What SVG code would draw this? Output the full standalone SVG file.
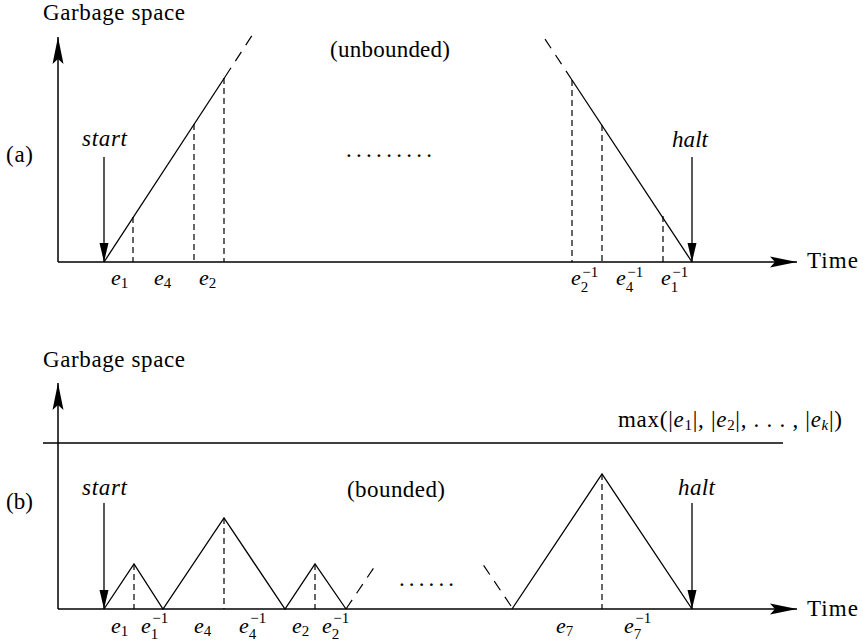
<svg xmlns="http://www.w3.org/2000/svg" width="863" height="643" viewBox="0 0 863 643">
<defs>
<style>
.ln{stroke:#000;stroke-width:1.3;fill:none}
.ax{stroke:#000;stroke-width:1.5;fill:none}
.ds{stroke:#000;stroke-width:1.2;fill:none;stroke-dasharray:6 4}
.dl{stroke:#000;stroke-width:1.2;fill:none;stroke-dasharray:11 8}
text{font-family:"Liberation Serif","DejaVu Serif",serif;fill:#000}
.t{font-size:23px}
.it{font-size:23px;font-style:italic}
.e{font-size:22px;font-style:italic}
.sb{font-size:15px;font-style:normal}
.sbi{font-size:15px;font-style:italic}
</style>
<marker id="axh" markerUnits="userSpaceOnUse" viewBox="-28 -7 30 14" refX="0" refY="0" markerWidth="30" markerHeight="14" orient="auto" overflow="visible">
<path d="M0,0 L-27,-5.5 L-22,0 L-27,5.5 Z" fill="#000"/>
</marker>
<marker id="evh" markerUnits="userSpaceOnUse" viewBox="-20 -5 22 10" refX="0" refY="0" markerWidth="22" markerHeight="10" orient="auto" overflow="visible">
<path d="M0,0 L-19,-4.5 L-19,4.5 Z" fill="#000"/>
</marker>
</defs>
<rect width="863" height="643" fill="#fff"/>

<g id="panel-a">
<g id="a-axes">
<line class="ax" x1="58" y1="262" x2="58" y2="37" marker-end="url(#axh)"/>
<line class="ax" x1="58" y1="262" x2="797" y2="262" marker-end="url(#axh)"/>
<text class="t" x="43" y="20" textLength="142">Garbage space</text>
<text class="t" x="807" y="268" textLength="51">Time</text>
<text class="t" x="6" y="162" textLength="27">(a)</text>
</g>
<g id="a-start">
<text class="it" x="82" y="146" textLength="45">start</text>
<line class="ln" x1="104" y1="157" x2="104" y2="262" marker-end="url(#evh)"/>
</g>
<g id="a-halt">
<text class="it" x="672" y="147" textLength="36">halt</text>
<line class="ln" x1="692" y1="157" x2="692" y2="262" marker-end="url(#evh)"/>
</g>
<g id="a-curve">
<line class="ln" x1="104" y1="262" x2="225" y2="77"/>
<line class="dl" x1="225" y1="77" x2="253" y2="34"/>
<line class="ln" x1="572" y1="80" x2="692" y2="262"/>
<line class="dl" x1="572" y1="80" x2="541" y2="33"/>
<line class="ds" x1="133" y1="217" x2="133" y2="262"/>
<line class="ds" x1="194" y1="124" x2="194" y2="262"/>
<line class="ds" x1="224" y1="78" x2="224" y2="262"/>
<line class="ds" x1="572" y1="80" x2="572" y2="262"/>
<line class="ds" x1="602" y1="125" x2="602" y2="262"/>
<line class="ds" x1="663" y1="216" x2="663" y2="262"/>
</g>
<g id="a-labels">
<text class="t" x="330" y="57" textLength="120">(unbounded)</text>
<text class="t" x="346" y="157" textLength="86">.........</text>
<text x="111" y="285"><tspan class="e">e</tspan><tspan class="sb" dy="3">1</tspan></text>
<text x="154" y="285"><tspan class="e">e</tspan><tspan class="sb" dy="3">4</tspan></text>
<text x="199" y="285"><tspan class="e">e</tspan><tspan class="sb" dy="3">2</tspan></text>
<text x="571" y="285"><tspan class="e">e</tspan><tspan class="sb" dy="7">2</tspan><tspan class="sb" dx="-6" dy="-15">−1</tspan></text>
<text x="616" y="285"><tspan class="e">e</tspan><tspan class="sb" dy="7">4</tspan><tspan class="sb" dx="-6" dy="-15">−1</tspan></text>
<text x="661" y="285"><tspan class="e">e</tspan><tspan class="sb" dy="7">1</tspan><tspan class="sb" dx="-6" dy="-15">−1</tspan></text>
</g>
</g>

<g id="panel-b">
<g id="b-axes">
<line class="ax" x1="58" y1="609" x2="58" y2="383" marker-end="url(#axh)"/>
<line class="ax" x1="58" y1="609" x2="797" y2="609" marker-end="url(#axh)"/>
<line class="ln" x1="43" y1="443" x2="783" y2="443"/>
<text class="t" x="43" y="367" textLength="142">Garbage space</text>
<text class="t" x="807" y="616" textLength="51">Time</text>
<text class="t" x="6" y="509" textLength="27">(b)</text>
<text class="t" x="618" y="427" textLength="224">max(|<tspan class="e" style="font-size:23px">e</tspan><tspan class="sb" dy="3">1</tspan><tspan dy="-3">|, |</tspan><tspan class="e" style="font-size:23px">e</tspan><tspan class="sb" dy="3">2</tspan><tspan dy="-3">|, . . . , |</tspan><tspan class="e" style="font-size:23px">e</tspan><tspan class="sbi" dy="3">k</tspan><tspan dy="-3">|)</tspan></text>
</g>
<g id="b-start">
<text class="it" x="82" y="495" textLength="45">start</text>
<line class="ln" x1="104" y1="503" x2="104" y2="609" marker-end="url(#evh)"/>
</g>
<g id="b-halt">
<text class="it" x="678" y="495" textLength="37">halt</text>
<line class="ln" x1="692" y1="503" x2="692" y2="609" marker-end="url(#evh)"/>
</g>
<g id="b-curve">
<polyline class="ln" points="104,609 134,564 163,609 224,518 285,609 315,564 346,609"/>
<line class="dl" x1="346" y1="609" x2="375" y2="566"/>
<line class="dl" x1="511" y1="606" x2="482" y2="563"/>
<polyline class="ln" points="512,609 602,474 692,609"/>
<line class="ds" x1="134" y1="564" x2="134" y2="609"/>
<line class="ds" x1="224" y1="518" x2="224" y2="609"/>
<line class="ds" x1="315" y1="564" x2="315" y2="609"/>
<line class="ds" x1="602" y1="474" x2="602" y2="609"/>
</g>
<g id="b-labels">
<text class="t" x="347" y="497" textLength="98">(bounded)</text>
<text class="t" x="399" y="586" textLength="55">......</text>
<text x="111" y="633"><tspan class="e">e</tspan><tspan class="sb" dy="3">1</tspan></text>
<text x="141" y="633"><tspan class="e">e</tspan><tspan class="sb" dy="6">1</tspan><tspan class="sb" dx="-6" dy="-16">−1</tspan></text>
<text x="194" y="633"><tspan class="e">e</tspan><tspan class="sb" dy="3">4</tspan></text>
<text x="239" y="633"><tspan class="e">e</tspan><tspan class="sb" dy="6">4</tspan><tspan class="sb" dx="-6" dy="-16">−1</tspan></text>
<text x="292" y="633"><tspan class="e">e</tspan><tspan class="sb" dy="3">2</tspan></text>
<text x="322" y="633"><tspan class="e">e</tspan><tspan class="sb" dy="6">2</tspan><tspan class="sb" dx="-6" dy="-16">−1</tspan></text>
<text x="556" y="633"><tspan class="e">e</tspan><tspan class="sb" dy="3">7</tspan></text>
<text x="624" y="633"><tspan class="e">e</tspan><tspan class="sb" dy="6">7</tspan><tspan class="sb" dx="-6" dy="-16">−1</tspan></text>
</g>
</g>
</svg>
